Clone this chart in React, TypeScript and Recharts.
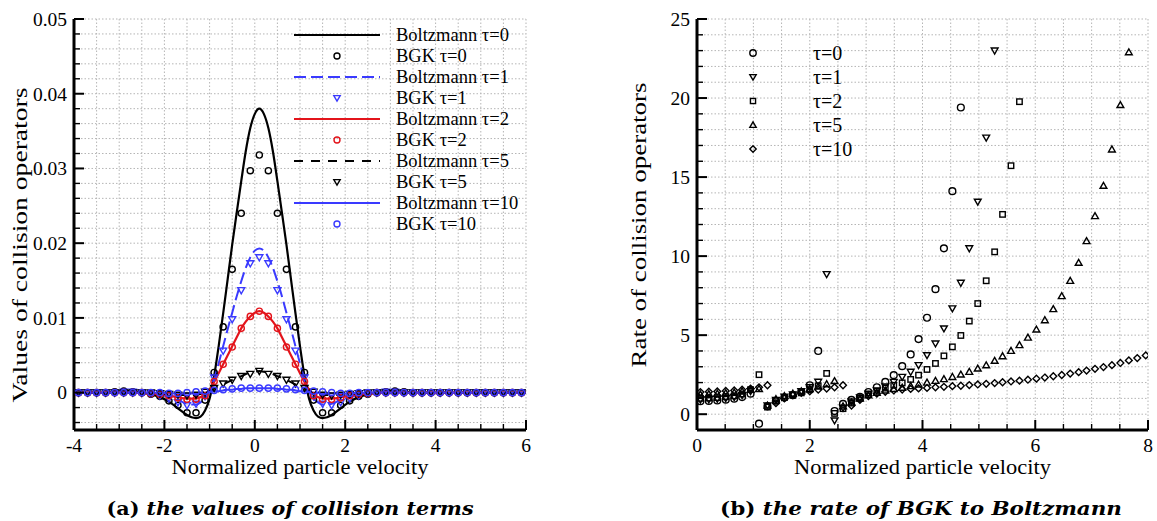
import React from "react";
import { ComposedChart, Line, Scatter, XAxis, YAxis, CartesianGrid } from "recharts";

const FONT = "Liberation Serif, Tinos, Times New Roman, Nimbus Roman, DejaVu Serif, serif";
const CAP_FONT = "DejaVu Serif, Liberation Serif, serif";
const BLACK = "#000000";
const BLUE = "#3a3aff";
const RED = "#e3141b";

// ---------- (a) values of collision terms ----------
const lineX = [
  -4.0, -3.4, -2.9, -2.7, -2.4, -2.1, -1.9, -1.7, -1.5, -1.4, -1.3, -1.2, -1.1, -1.0, -0.9, -0.8, -0.7, -0.6, -0.5, -0.4,
  -0.3, -0.2, -0.1, 0.0, 0.1, 0.2, 0.3, 0.4, 0.5, 0.6, 0.7, 0.8, 0.9, 1.0, 1.1, 1.2, 1.3, 1.4, 1.5, 1.6,
  1.7, 1.9, 2.1, 2.3, 2.6, 2.9, 3.1, 3.6, 4.5, 6.0,
];
const boltz0 = [
  0, 0, 0.0002, 0.0002, -0.0001, -0.0006, -0.0012, -0.0021, -0.003, -0.0033, -0.0034, -0.0032, -0.0024, -0.0008, 0.0022,
  0.0062, 0.0106, 0.0152, 0.0198, 0.0241, 0.0283, 0.0323, 0.0354, 0.0373, 0.038,
  0.0373, 0.0354, 0.0323, 0.0283, 0.0241, 0.0198, 0.0152, 0.0106, 0.0062, 0.0022, -0.0008, -0.0024, -0.0032, -0.0034,
  -0.0033, -0.003, -0.0021, -0.0012, -0.0006, -0.0001, 0.0002, 0.0002, 0, 0, 0,
];
const boltz1 = [
  0, 0, 0.0001, 0.0001, 0, -0.0003, -0.0006, -0.001, -0.0015, -0.0016, -0.0016, -0.0013, -0.0008, 0.0002, 0.0018,
  0.0039, 0.0062, 0.0085, 0.0107, 0.0129, 0.0149, 0.0167, 0.0181, 0.019, 0.0193,
  0.019, 0.0181, 0.0167, 0.0149, 0.0129, 0.0107, 0.0085, 0.0062, 0.0039, 0.0018, 0.0002, -0.0008, -0.0013, -0.0016,
  -0.0016, -0.0015, -0.001, -0.0006, -0.0003, 0, 0.0001, 0.0001, 0, 0, 0,
];
const boltz2 = [
  0, 0, 0, 0, -0.0001, -0.0002, -0.0004, -0.0006, -0.0008, -0.0008, -0.0008, -0.0006, -0.0003, 0.0004, 0.0014,
  0.0026, 0.0038, 0.005, 0.0062, 0.0074, 0.0086, 0.0095, 0.0102, 0.0107, 0.0109,
  0.0107, 0.0102, 0.0095, 0.0086, 0.0074, 0.0062, 0.005, 0.0038, 0.0026, 0.0014, 0.0004, -0.0003, -0.0006, -0.0008,
  -0.0008, -0.0008, -0.0006, -0.0004, -0.0002, -0.0001, 0, 0, 0, 0, 0,
];
const boltz5 = [
  0, 0, 0, 0, 0, -0.0001, -0.0002, -0.0003, -0.0003, -0.0003, -0.0003, -0.0002, 0, 0.0002, 0.0005,
  0.0008, 0.0011, 0.0014, 0.0017, 0.002, 0.0022, 0.0025, 0.0027, 0.0028, 0.0029,
  0.0028, 0.0027, 0.0025, 0.0022, 0.002, 0.0017, 0.0014, 0.0011, 0.0008, 0.0005, 0.0002, 0, -0.0002, -0.0003,
  -0.0003, -0.0003, -0.0003, -0.0002, -0.0001, 0, 0, 0, 0, 0, 0,
];
const boltz10 = [
  0, 0, 0, 0, 0, 0, -0.0001, -0.0001, -0.0001, -0.0001, -0.0001, 0, 0, 0.0001, 0.0002,
  0.0002, 0.0003, 0.0004, 0.0004, 0.0005, 0.0005, 0.0006, 0.0006, 0.0006, 0.0006,
  0.0006, 0.0006, 0.0006, 0.0005, 0.0005, 0.0004, 0.0004, 0.0003, 0.0002, 0.0002, 0.0001, 0, 0, -0.0001,
  -0.0001, -0.0001, -0.0001, -0.0001, 0, 0, 0, 0, 0, 0, 0,
];

const bgkX = [
  -3.9, -3.7, -3.5, -3.3, -3.1, -2.9, -2.7, -2.5, -2.3, -2.1, -1.9, -1.7, -1.5, -1.3, -1.1, -0.9, -0.7, -0.5, -0.3, -0.1,
  0.1, 0.3, 0.5, 0.7, 0.9, 1.1, 1.3, 1.5, 1.7, 1.9, 2.1, 2.3, 2.5, 2.7, 2.9, 3.1, 3.3, 3.5, 3.7, 3.9,
  4.1, 4.3, 4.5, 4.7, 4.9, 5.1, 5.3, 5.5, 5.7, 5.9,
];
const bgk0 = [
  0, 0, 0, 0, 0.0001, 0.0002, 0.0001, 0, -0.0002, -0.0005, -0.0011, -0.0017, -0.0027, -0.0027, -0.001, 0.0027, 0.0088, 0.0165, 0.024, 0.0297,
  0.0318,
  0.0297, 0.024, 0.0165, 0.0088, 0.0027, -0.001, -0.0027, -0.0027, -0.0017, -0.0011, -0.0005, -0.0002, 0, 0.0001, 0.0002, 0.0001,
  0, 0, 0, 0, 0, 0, 0, 0, 0, 0, 0, 0, 0,
];
const bgk1 = [
  0, 0, 0, 0, 0, 0.0001, 0.0001, 0, -0.0001, -0.0004, -0.0008, -0.0013, -0.0017, -0.0015, -0.0005, 0.002, 0.0056, 0.0098, 0.0137, 0.0173,
  0.0181,
  0.0173, 0.0137, 0.0098, 0.0056, 0.002, -0.0005, -0.0015, -0.0017, -0.0013, -0.0008, -0.0004, -0.0001, 0, 0.0001, 0.0001, 0,
  0, 0, 0, 0, 0, 0, 0, 0, 0, 0, 0, 0, 0,
];
const bgk2 = [
  0, 0, 0, 0, 0, 0, 0, 0, -0.0001, -0.0002, -0.0004, -0.0007, -0.0009, -0.0009, -0.0004, 0.0015, 0.0038, 0.0061, 0.0086, 0.0102,
  0.0109,
  0.0102, 0.0086, 0.0061, 0.0038, 0.0015, -0.0004, -0.0009, -0.0009, -0.0007, -0.0004, -0.0002, -0.0001, 0, 0, 0, 0,
  0, 0, 0, 0, 0, 0, 0, 0, 0, 0, 0, 0, 0,
];
const bgk5 = [
  0, 0, 0, 0, 0, 0, 0, 0, 0, -0.0001, -0.0002, -0.0003, -0.0004, -0.0003, 0.0001, 0.0006, 0.0012, 0.0017, 0.0022, 0.0025,
  0.0029,
  0.0025, 0.0022, 0.0017, 0.0012, 0.0006, 0.0001, -0.0003, -0.0004, -0.0003, -0.0002, -0.0001, 0, 0, 0, 0, 0,
  0, 0, 0, 0, 0, 0, 0, 0, 0, 0, 0, 0, 0,
];
const bgk10 = [
  0, 0, 0, 0, 0, 0, 0, 0, 0, 0, -0.0001, -0.0001, 0, 0.0001, 0.0002, 0.0003, 0.0004, 0.0005, 0.0006, 0.0006,
  0.0006,
  0.0006, 0.0006, 0.0005, 0.0004, 0.0003, 0.0002, 0.0001, 0, -0.0001, -0.0001, 0, 0, 0, 0, 0, 0,
  0, 0, 0, 0, 0, 0, 0, 0, 0, 0, 0, 0, 0,
];

const leftXTicks = [-4, -3.5, -3, -2.5, -2, -1.5, -1, -0.5, 0, 0.5, 1, 1.5, 2, 2.5, 3, 3.5, 4, 4.5, 5, 5.5, 6];
const leftYTicks = [
  -0.004, -0.002, 0, 0.002, 0.004, 0.006, 0.008, 0.01, 0.012, 0.014, 0.016, 0.018, 0.02, 0.022, 0.024, 0.026, 0.028,
  0.03, 0.032, 0.034, 0.036, 0.038, 0.04, 0.042, 0.044, 0.046, 0.048, 0.05,
];

// ---------- (b) rate of BGK to Boltzmann ----------
const rateX = [
  0.06, 0.21, 0.36, 0.51, 0.66, 0.8, 0.95, 1.1, 1.25, 1.4, 1.55, 1.7, 1.85, 2.0, 2.15, 2.3, 2.44, 2.59, 2.74, 2.89,
  3.04, 3.19, 3.34, 3.49, 3.64, 3.79, 3.93, 4.08, 4.23, 4.38, 4.53, 4.68, 4.83, 4.98, 5.13, 5.28, 5.42, 5.57, 5.72, 5.87,
  6.02, 6.17, 6.32, 6.47, 6.62, 6.77, 6.91, 7.06, 7.21, 7.36, 7.51, 7.66, 7.81, 7.96,
];
const rate0 = [
  0.82, 0.84, 0.87, 0.92, 0.98, 1.08, 1.3, -0.6, 0.5, 0.85, 1.05, 1.2, 1.4, 1.83, 4.0, null, 0.2, 0.65, 0.9, 1.1,
  1.4, 1.7, 2.04, 2.47, 3.04, 3.78, 4.75, 6.1, 7.91, 10.49, 14.11, 19.4, null, null, null, null, null, null, null, null,
  null, null, null, null, null, null, null, null, null, null, null, null, null, null,
];
const rate1 = [
  0.92, 0.94, 0.97, 1.02, 1.08, 1.2, 1.45, null, 0.55, 0.9, 1.1, 1.25, 1.45, 1.7, 2.05, 8.86, -0.4, 0.4, 0.8, 1.05,
  1.3, 1.5, 1.75, 2.04, 2.36, 2.68, 3.1, 3.73, 4.47, 5.42, 6.69, 8.31, 10.49, 13.44, 17.49, 23.0, null, null, null, null,
  null, null, null, null, null, null, null, null, null, null, null, null, null, null,
];
const rate2 = [
  1.0, 1.02, 1.05, 1.1, 1.16, 1.28, 1.55, 2.5, 0.45, 0.85, 1.05, 1.2, 1.35, 1.55, 1.8, 2.58, 0.05, 0.35, 0.7, 1.0,
  1.25, 1.45, 1.65, 1.83, 1.98, 2.2, 2.47, 2.83, 3.21, 3.69, 4.26, 4.98, 5.89, 7.0, 8.44, 10.27, 12.64, 15.72, 19.77, null,
  null, null, null, null, null, null, null, null, null, null, null, null, null, null,
];
const rate5 = [
  1.25, 1.27, 1.3, 1.33, 1.37, 1.45, 1.55, 1.6, 0.55, 0.95, 1.15, 1.3, 1.45, 1.6, 1.75, 1.9, 2.1, 0.5, 0.75, 1.0,
  1.2, 1.35, 1.5, 1.6, 1.68, 1.78, 1.88, 2.0, 2.11, 2.22, 2.36, 2.51, 2.68, 2.89, 3.1, 3.38, 3.67, 4.01, 4.37, 4.85,
  5.36, 5.95, 6.65, 7.47, 8.44, 9.58, 10.95, 12.53, 14.45, 16.75, 19.56, 22.9, null, null,
];
const rate10 = [
  1.4, 1.42, 1.44, 1.47, 1.5, 1.55, 1.62, 1.7, 1.83, 0.7, 1.0, 1.2, 1.35, 1.45, 1.55, 1.62, 1.7, 1.83, 0.55, 0.9,
  1.15, 1.3, 1.42, 1.5, 1.56, 1.6, 1.63, 1.66, 1.7, 1.73, 1.77, 1.8, 1.84, 1.88, 1.92, 1.97, 2.02, 2.07, 2.12, 2.18,
  2.25, 2.32, 2.4, 2.48, 2.57, 2.66, 2.76, 2.87, 2.98, 3.1, 3.24, 3.4, 3.55, 3.72,
];

const rightXTicks = [0, 0.5, 1, 1.5, 2, 2.5, 3, 3.5, 4, 4.5, 5, 5.5, 6, 6.5, 7, 7.5, 8];
const rightYTicks = [0, 1, 2, 3, 4, 5, 6, 7, 8, 9, 10, 11, 12, 13, 14, 15, 16, 17, 18, 19, 20, 21, 22, 23, 24, 25];

type Kind = "circle" | "tri" | "triUp" | "square" | "diamond";

const boltzSeries = [
  { name: "Boltzmann τ=0", values: boltz0, color: BLACK, width: 2.2, dash: undefined as string | undefined },
  { name: "Boltzmann τ=1", values: boltz1, color: BLUE, width: 2, dash: "12 5" },
  { name: "Boltzmann τ=2", values: boltz2, color: RED, width: 2.2, dash: undefined },
  { name: "Boltzmann τ=5", values: boltz5, color: BLACK, width: 2, dash: "9 8" },
  { name: "Boltzmann τ=10", values: boltz10, color: BLUE, width: 2, dash: undefined },
];
const bgkSeries: { name: string; values: number[]; color: string; kind: Kind }[] = [
  { name: "BGK τ=0", values: bgk0, color: BLACK, kind: "circle" },
  { name: "BGK τ=1", values: bgk1, color: BLUE, kind: "tri" },
  { name: "BGK τ=2", values: bgk2, color: RED, kind: "circle" },
  { name: "BGK τ=5", values: bgk5, color: BLACK, kind: "tri" },
  { name: "BGK τ=10", values: bgk10, color: BLUE, kind: "circle" },
];
const rateSeries: { name: string; values: (number | null)[]; kind: Kind }[] = [
  { name: "τ=0", values: rate0, kind: "circle" },
  { name: "τ=1", values: rate1, kind: "tri" },
  { name: "τ=2", values: rate2, kind: "square" },
  { name: "τ=5", values: rate5, kind: "triUp" },
  { name: "τ=10", values: rate10, kind: "diamond" },
];

function Glyph({ kind, cx, cy, color, s, sw }: { kind: Kind; cx: number; cy: number; color: string; s: number; sw: number }) {
  const common = { fill: "none", stroke: color, strokeWidth: sw };
  switch (kind) {
    case "circle":
      return <circle cx={cx} cy={cy} r={s} {...common} />;
    case "tri":
      return <polygon points={`${cx - s},${cy - s * 0.75} ${cx + s},${cy - s * 0.75} ${cx},${cy + s}`} {...common} />;
    case "triUp":
      return <polygon points={`${cx - s},${cy + s * 0.75} ${cx + s},${cy + s * 0.75} ${cx},${cy - s}`} {...common} />;
    case "square":
      return <rect x={cx - s * 0.8} y={cy - s * 0.8} width={s * 1.6} height={s * 1.6} {...common} />;
    default:
      return <polygon points={`${cx},${cy - s} ${cx + s},${cy} ${cx},${cy + s} ${cx - s},${cy}`} {...common} />;
  }
}

const tickText = { fontFamily: FONT, fontSize: 19.5, fill: "#000" };

function makeBottomTick(isMajor: (v: number) => boolean) {
  return (p: any) => {
    const v = p.payload.value as number;
    const major = isMajor(v);
    return (
      <g>
        <line x1={p.x} x2={p.x} y1={p.y} y2={p.y - (major ? 10 : 6)} stroke="#000" strokeWidth={major ? 2 : 1.4} />
        {major && (
          <text x={p.x} y={p.y + 8} dy="0.71em" textAnchor="middle" {...tickText}>
            {String(v)}
          </text>
        )}
      </g>
    );
  };
}

function makeLeftTick(isMajor: (v: number) => boolean, fmt: (v: number) => string) {
  return (p: any) => {
    const v = p.payload.value as number;
    const major = isMajor(v);
    return (
      <g>
        <line x1={p.x} x2={p.x + (major ? 10 : 6)} y1={p.y} y2={p.y} stroke="#000" strokeWidth={major ? 2 : 1.4} />
        {major && (
          <text x={p.x - 7} y={p.y} dy="0.35em" textAnchor="end" {...tickText}>
            {fmt(v)}
          </text>
        )}
      </g>
    );
  };
}

const evenInt = (v: number) => Number.isInteger(v) && v % 2 === 0;

function xTitle(text: string) {
  return (p: any) => {
    const vb = p.viewBox;
    return (
      <text x={vb.x + vb.width / 2} y={474} textAnchor="middle" fontFamily={FONT} fontSize={20.5} textLength={257} lengthAdjust="spacingAndGlyphs">
        {text}
      </text>
    );
  };
}

function yTitle(text: string, bx: number, cy: number, len: number) {
  return () => (
    <text
      x={bx}
      y={cy}
      transform={`rotate(-90 ${bx} ${cy})`}
      textAnchor="middle"
      fontFamily={FONT}
      fontSize={22}
      textLength={len}
      lengthAdjust="spacingAndGlyphs"
    >
      {text}
    </text>
  );
}

const axisLine = { stroke: "#000", strokeWidth: 3 };

function ValuesChart() {
  return (
    <ComposedChart width={560} height={500} margin={{ top: 19, right: 34, bottom: 10, left: 0 }}>
      <CartesianGrid stroke="#b5b5b5" strokeDasharray="1.5 2" syncWithTicks />
      <XAxis
        type="number"
        dataKey="x"
        domain={[-4, 6]}
        allowDataOverflow
        ticks={leftXTicks}
        interval={0}
        height={60}
        tickSize={0}
        tickMargin={0}
        tickLine={false}
        axisLine={axisLine}
        tick={makeBottomTick(evenInt)}
        label={{ content: xTitle("Normalized particle velocity") }}
      />
      <YAxis
        type="number"
        dataKey="y"
        domain={[-0.005, 0.05]}
        allowDataOverflow
        ticks={leftYTicks}
        interval={0}
        width={74}
        tickSize={0}
        tickMargin={0}
        tickLine={false}
        axisLine={axisLine}
        tick={makeLeftTick(
          (v) => Math.abs(v * 100 - Math.round(v * 100)) < 1e-6,
          (v) => (v === 0 ? "0" : v.toFixed(2))
        )}
        label={{ content: yTitle("Values of collision operators", 27, 245, 315) }}
      />
      {boltzSeries.map((b, i) => {
        const m = bgkSeries[i];
        return [
          <Line
            key={`l${i}`}
            data={lineX.map((x, j) => ({ x, y: b.values[j] }))}
            dataKey="y"
            type="monotone"
            stroke={b.color}
            strokeWidth={b.width}
            strokeDasharray={b.dash}
            dot={false}
            activeDot={false}
            isAnimationActive={false}
          />,
          <Scatter
            key={`s${i}`}
            data={bgkX.map((x, j) => ({ x, y: m.values[j] }))}
            dataKey="y"
            isAnimationActive={false}
            shape={(p: any) => <Glyph kind={m.kind} cx={p.cx} cy={p.cy} color={m.color} s={m.kind === "tri" ? 3.5 : 3.1} sw={1.4} />}
          />,
        ];
      })}
    </ComposedChart>
  );
}

function RateChart() {
  return (
    <ComposedChart width={534} height={500} margin={{ top: 19, right: 9, bottom: 10, left: 0 }}>
      <CartesianGrid stroke="#b5b5b5" strokeDasharray="1.5 2" syncWithTicks />
      <XAxis
        type="number"
        dataKey="x"
        domain={[0, 8]}
        allowDataOverflow
        ticks={rightXTicks}
        interval={0}
        height={60}
        tickSize={0}
        tickMargin={0}
        tickLine={false}
        axisLine={axisLine}
        tick={makeBottomTick(evenInt)}
        label={{ content: xTitle("Normalized particle velocity") }}
      />
      <YAxis
        type="number"
        dataKey="y"
        domain={[-1, 25]}
        allowDataOverflow
        ticks={rightYTicks}
        interval={0}
        width={74}
        tickSize={0}
        tickMargin={0}
        tickLine={false}
        axisLine={axisLine}
        tick={makeLeftTick((v) => v % 5 === 0, (v) => String(v))}
        label={{ content: yTitle("Rate of collision operators", 23, 225, 285) }}
      />
      {rateSeries.map((r, i) => (
        <Scatter
          key={i}
          data={rateX.map((x, j) => ({ x, y: r.values[j] })).filter((d) => d.y !== null)}
          dataKey="y"
          isAnimationActive={false}
          shape={(p: any) => <Glyph kind={r.kind} cx={p.cx} cy={p.cy} color={BLACK} s={3.4} sw={1.4} />}
        />
      ))}
    </ComposedChart>
  );
}

function Overlay() {
  const legendText = { fontFamily: FONT, fill: "#000" };
  return (
    <svg width={1157} height={521} style={{ position: "absolute", left: 0, top: 0, pointerEvents: "none" }}>
      {boltzSeries.map((b, i) => {
        const m = bgkSeries[i];
        const y1 = 35 + 42 * i;
        const y2 = y1 + 21;
        return (
          <g key={i}>
            <line x1={294} x2={380} y1={y1} y2={y1} stroke={b.color} strokeWidth={b.width} strokeDasharray={b.dash} />
            <text x={396} y={y1} dy="0.35em" fontSize={18.5} {...legendText}>
              {b.name}
            </text>
            <Glyph kind={m.kind} cx={337} cy={y2} color={m.color} s={m.kind === "tri" ? 3.2 : 3} sw={1.4} />
            <text x={396} y={y2} dy="0.35em" fontSize={18.5} {...legendText}>
              {m.name}
            </text>
          </g>
        );
      })}
      {rateSeries.map((r, i) => {
        const y = 53 + 24 * i;
        return (
          <g key={`r${i}`}>
            <Glyph kind={r.kind} cx={753} cy={y} color={BLACK} s={3.2} sw={1.4} />
            <text x={813} y={y} dy="0.35em" fontSize={20} {...legendText}>
              {r.name}
            </text>
          </g>
        );
      })}
      <text x={290} y={515} textAnchor="middle" fontFamily={CAP_FONT} fontWeight="bold" fontSize={19} textLength={367} lengthAdjust="spacingAndGlyphs">
        <tspan>(a) </tspan>
        <tspan fontStyle="italic">the values of collision terms</tspan>
      </text>
      <text x={921} y={515} textAnchor="middle" fontFamily={CAP_FONT} fontWeight="bold" fontSize={19} textLength={402} lengthAdjust="spacingAndGlyphs">
        <tspan>(b) </tspan>
        <tspan fontStyle="italic">the rate of BGK to Boltzmann</tspan>
      </text>
    </svg>
  );
}

export default function App() {
  return (
    <div style={{ position: "absolute", left: 0, top: 0, width: 1157, height: 521, background: "#fff", fontFamily: FONT }}>
      <div style={{ position: "absolute", left: 0, top: 0 }}>
        <ValuesChart />
      </div>
      <div style={{ position: "absolute", left: 623, top: 0 }}>
        <RateChart />
      </div>
      <Overlay />
    </div>
  );
}
